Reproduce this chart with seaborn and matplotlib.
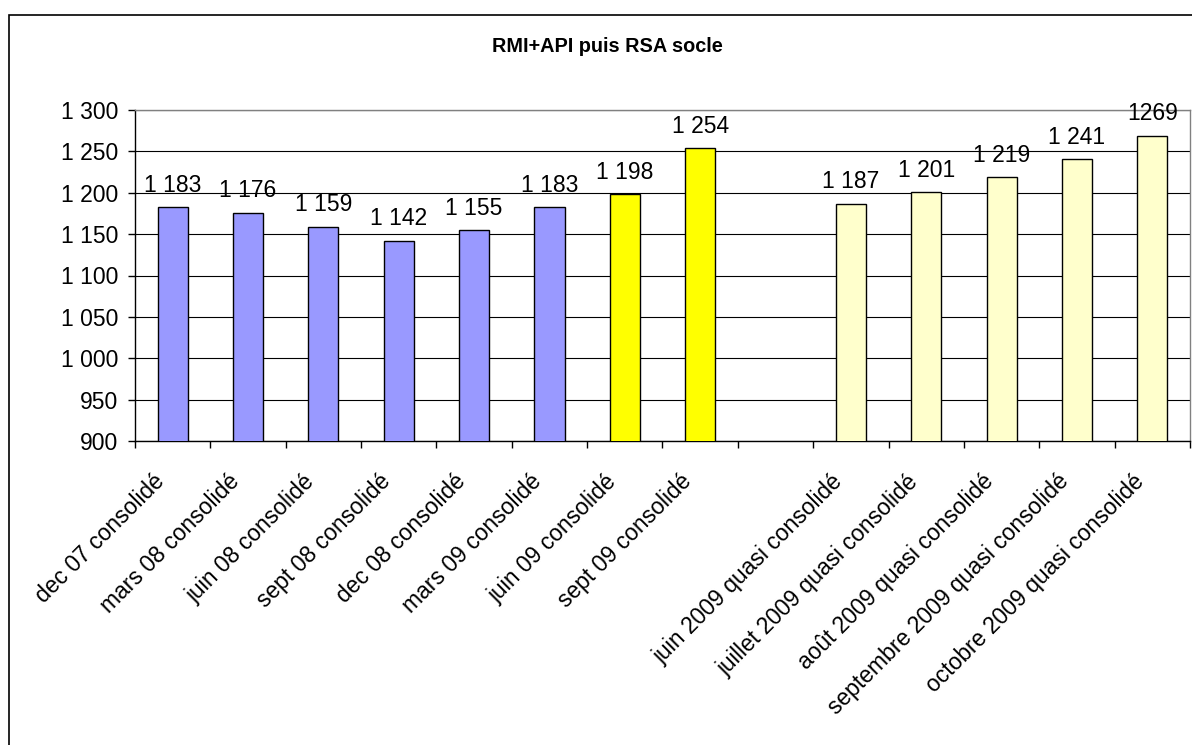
import numpy as np
import pandas as pd
import matplotlib
matplotlib.use("Agg")
import matplotlib.pyplot as plt
from matplotlib.patches import Rectangle
from matplotlib.ticker import FuncFormatter, FixedLocator
from matplotlib.transforms import ScaledTranslation
import seaborn as sns

# Series data
categories = [
    "dec 07 consolidé", "mars 08 consolidé", "juin 08 consolidé",
    "sept 08 consolidé", "dec 08 consolidé", "mars 09 consolidé",
    "juin 09 consolidé", "sept 09 consolidé", " ",
    "juin 2009 quasi consolidé", "juillet 2009 quasi consolidé",
    "août 2009 quasi consolidé", "septembre 2009 quasi consolidé",
    "octobre 2009 quasi consolidé",
]
values = [1183, 1176, 1159, 1142, 1155, 1183, 1198, 1254, np.nan,
          1187, 1201, 1219, 1241, 1269]
groups = ["RMI+API", "RMI+API", "RMI+API", "RMI+API", "RMI+API", "RMI+API",
          "RSA", "RSA", "RSA", "RSA quasi", "RSA quasi", "RSA quasi",
          "RSA quasi", "RSA quasi"]
label_grouped = [True] * 13 + [False]
yticks = [900, 950, 1000, 1050, 1100, 1150, 1200, 1250, 1300]
title = "RMI+API puis RSA socle"

palette = {"RMI+API": "#9999FF", "RSA": "#FFFF00", "RSA quasi": "#FFFFCC"}

df = pd.DataFrame({"cat": categories, "val": values, "grp": groups})

sns.set_theme(style="white")
plt.rcParams["font.family"] = ["Liberation Sans", "DejaVu Sans"]

W, H = 1192, 745
FS = 16.5
fig = plt.figure(figsize=(W / 100, H / 100), dpi=100)
fig.patch.set_facecolor("white")

# outer chart frame
fig.patches.append(Rectangle((9 / W, -0.2), 1.2, 1.2 - 15 / H,
                             transform=fig.transFigure, fill=False,
                             edgecolor="black", linewidth=1.2, zorder=0))

ax = fig.add_axes([135 / W, 1 - 441 / H, (1190 - 135) / W, (441 - 110) / H])

sns.barplot(data=df.dropna(), x="cat", y="val", hue="grp", order=categories,
            palette=palette, width=0.4, dodge=False, legend=False,
            edgecolor="black", linewidth=1.0, saturation=1, ax=ax, zorder=3)

ax.set_ylim(900, 1300)
ax.set_xlim(-0.5, len(categories) - 0.5)
ax.yaxis.set_major_locator(FixedLocator(yticks))
ax.yaxis.set_major_formatter(FuncFormatter(lambda v, p: f"{v:,.0f}".replace(",", " ")))
ax.grid(axis="y", color="black", linewidth=0.8, zorder=0)
ax.set_axisbelow(True)

for s in ["top", "right"]:
    ax.spines[s].set_visible(True)
    ax.spines[s].set_color("#808080")
    ax.spines[s].set_linewidth(1.0)
for s in ["left", "bottom"]:
    ax.spines[s].set_color("black")
    ax.spines[s].set_linewidth(1.0)

ax.tick_params(axis="y", which="major", left=True, length=5, width=1,
               color="black", pad=7, labelsize=FS, labelcolor="black")
ax.set_xticks(range(len(categories)))
ax.set_xticks(np.arange(-0.5, len(categories), 1.0), minor=True)
ax.tick_params(axis="x", which="major", length=0, pad=8)
ax.tick_params(axis="x", which="minor", bottom=True, length=5, width=1, color="black")
ax.set_xticklabels(categories, rotation=45, ha="right", va="center",
                   rotation_mode="anchor", fontsize=FS, color="black")
shift = ScaledTranslation(-12 / 100, -26 / 100, fig.dpi_scale_trans)
for lab in ax.get_xticklabels():
    lab.set_transform(lab.get_transform() + shift)
ax.set_xlabel("")
ax.set_ylabel("")

# value labels above bars
for i, (v, g) in enumerate(zip(values, label_grouped)):
    if np.isnan(v):
        continue
    txt = f"{v:,.0f}".replace(",", " ") if g else f"{v:.0f}"
    ax.annotate(txt, (i, v), xytext=(0, 11), textcoords="offset points",
                ha="center", va="baseline", fontsize=FS, color="black",
                annotation_clip=False, zorder=5)

fig.text(607 / W, 1 - 46 / H, title, ha="center", va="center",
         fontsize=14.3, fontweight="bold", color="black")

fig.savefig("out.png", dpi=100, facecolor="white")
